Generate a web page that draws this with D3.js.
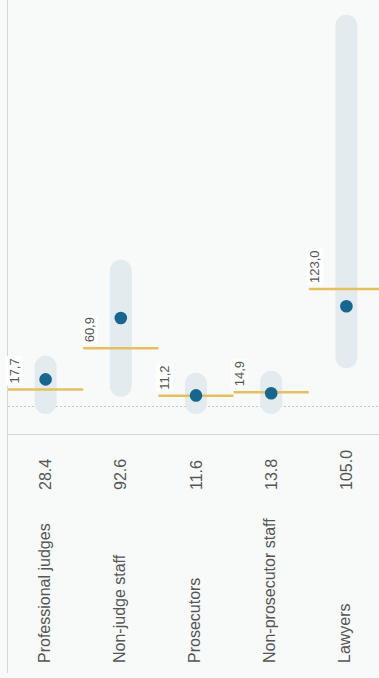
<!DOCTYPE html>
<html>
<head>
<meta charset="utf-8">
<script src="https://cdn.jsdelivr.net/npm/d3@7/dist/d3.min.js"></script>
<style>
  html, body { margin: 0; padding: 0; background: #f8fafa; }
  svg { display: block; font-family: "Liberation Sans", Arial, Helvetica, sans-serif; }
</style>
</head>
<body>
<svg id="chart" width="379" height="678"></svg>
<script>
// Staff categories (per 100 000 inhabitants)
const categories = ["Professional judges", "Non-judge staff", "Prosecutors", "Non-prosecutor staff", "Lawyers"];
// Value for the state (dot, printed below the axis)
const values = [28.4, 92.6, 11.6, 13.8, 105.0];
// Median of all states (yellow line with label)
const medians = [17.7, 60.9, 11.2, 14.9, 123.0];
// Range across states (grey pill)
const rangeMin = [3.7, 21.8, 3.7, 3.7, 51.5];
const rangeMax = [41.7, 142.2, 23.9, 26.0, 398.7];

const W = 379, H = 678;
const svg = d3.select("#chart");

const x = d3.scaleBand().domain(categories).range([8, 384]).padding(0);
const y = d3.scaleLinear().domain([0, 400]).range([406.5, 24.5]);

const rows = categories.map((c, i) => ({
  cat: c, value: values[i], median: medians[i], lo: rangeMin[i], hi: rangeMax[i]
}));

// frame lines
svg.append("line")
  .attr("x1", 7.5).attr("x2", 7.5).attr("y1", 0).attr("y2", 673)
  .attr("stroke", "#d4d7d8").attr("stroke-width", 1);
svg.append("line")
  .attr("x1", 7.5).attr("x2", W).attr("y1", 434.5).attr("y2", 434.5)
  .attr("stroke", "#d4d7d8").attr("stroke-width", 1);

// zero baseline
svg.append("line")
  .attr("x1", 8).attr("x2", W).attr("y1", y(0)).attr("y2", y(0))
  .attr("stroke", "#c4c7c9").attr("stroke-width", 1)
  .attr("stroke-dasharray", "2,2");

// range pills
svg.append("g").selectAll("line").data(rows).join("line")
  .attr("x1", d => x(d.cat) + x.bandwidth() / 2)
  .attr("x2", d => x(d.cat) + x.bandwidth() / 2)
  .attr("y1", d => y(d.lo)).attr("y2", d => y(d.hi))
  .attr("stroke", "#e3ebee").attr("stroke-width", 22)
  .attr("stroke-linecap", "round");

// median lines
svg.append("g").selectAll("line").data(rows).join("line")
  .attr("x1", d => x(d.cat)).attr("x2", d => x(d.cat) + x.bandwidth())
  .attr("y1", d => y(d.median)).attr("y2", d => y(d.median))
  .attr("stroke", "#e5c060").attr("stroke-width", 2.5);

// median labels with light box
const fmtComma = v => d3.format(".1f")(v).replace(".", ",");
const medLab = svg.append("g").selectAll("g").data(rows).join("g")
  .attr("transform", d => `translate(${x(d.cat) + 10.5},${y(d.median) - 6}) rotate(-90)`);
medLab.append("text")
  .attr("font-size", 13).attr("fill", "#555")
  .text(d => fmtComma(d.median));
medLab.each(function () {
  const g = d3.select(this);
  const b = g.select("text").node().getBBox();
  g.insert("rect", "text")
    .attr("x", b.x - 2).attr("y", b.y - 1)
    .attr("width", b.width + 4).attr("height", b.height + 2)
    .attr("fill", "#fdfefe");
});

// state dots
svg.append("g").selectAll("circle").data(rows).join("circle")
  .attr("cx", d => x(d.cat) + x.bandwidth() / 2)
  .attr("cy", d => y(d.value))
  .attr("r", 6.3)
  .attr("fill", "#17668d");

// value under the axis
svg.append("g").selectAll("text").data(rows).join("text")
  .attr("transform", d => `translate(${x(d.cat) + x.bandwidth() / 2 + 5.5},490) rotate(-90)`)
  .attr("font-size", 16).attr("fill", "#555")
  .text(d => d3.format(".1f")(d.value));

// category names
svg.append("g").selectAll("text").data(rows).join("text")
  .attr("transform", d => `translate(${x(d.cat) + x.bandwidth() / 2 + 4},663) rotate(-90)`)
  .attr("font-size", 16).attr("fill", "#555")
  .text(d => d.cat);
</script>
</body>
</html>
